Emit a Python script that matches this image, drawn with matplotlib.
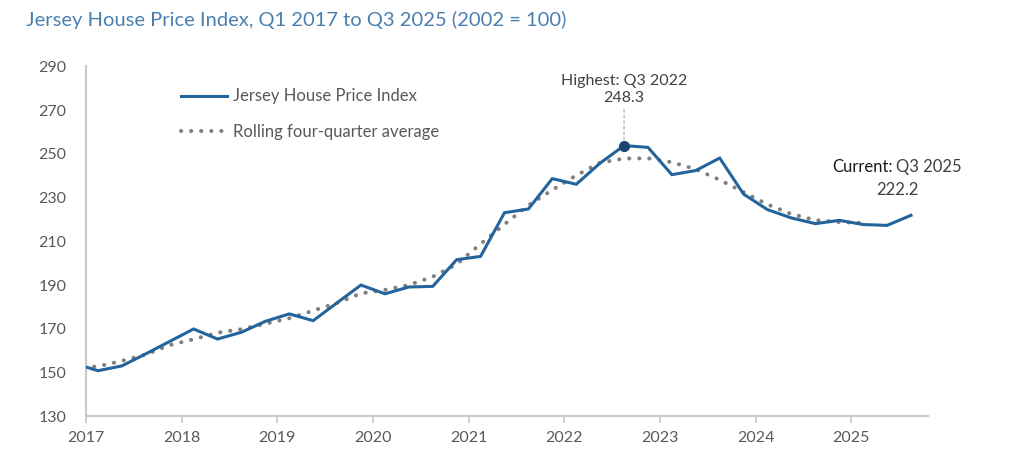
import matplotlib
matplotlib.use("Agg")
import matplotlib.pyplot as plt

# === Data ===

quarters = [
    "Q4 2016",
    "Q1 2017", "Q2 2017", "Q3 2017", "Q4 2017",
    "Q1 2018", "Q2 2018", "Q3 2018", "Q4 2018",
    "Q1 2019", "Q2 2019", "Q3 2019", "Q4 2019",
    "Q1 2020", "Q2 2020", "Q3 2020", "Q4 2020",
    "Q1 2021", "Q2 2021", "Q3 2021", "Q4 2021",
    "Q1 2022", "Q2 2022", "Q3 2022", "Q4 2022",
    "Q1 2023", "Q2 2023", "Q3 2023", "Q4 2023",
    "Q1 2024", "Q2 2024", "Q3 2024", "Q4 2024",
    "Q1 2025", "Q2 2025", "Q3 2025",
]

hpi = [
    154.2,
    150.8, 153.0, 158.5, 164.2,
    169.9, 165.3, 168.4, 173.4,
    176.8, 173.7, 181.9, 190.0,
    186.0, 189.1, 189.4, 201.6,
    203.1, 223.1, 224.8, 238.7,
    236.1, 245.8, 253.8, 253.0,
    240.5, 242.4, 248.1, 231.6,
    224.5, 220.7, 218.1, 219.6,
    217.7, 217.3, 221.9,
]

# rolling four-quarter average, Q4 2016 .. Q1 2025
rolling = [
    152.0,
    152.8, 155.3, 158.2, 162.5,
    165.2, 168.2, 169.8, 172.3,
    174.8, 178.3, 181.8, 186.2,
    187.8, 190.0, 193.8, 199.5,
    208.8, 217.8, 226.5, 233.5,
    240.2, 246.0, 247.9, 248.0,
    246.2, 243.0, 238.1, 232.5,
    226.9, 222.5, 219.7, 218.8,
    218.4,
]

year_ticks = [2017, 2018, 2019, 2020, 2021, 2022, 2023, 2024, 2025]
y_ticks = [130, 150, 170, 190, 210, 230, 250, 270, 290]

highest_label = "Highest: Q3 2022\n248.3"
current_value = "222.2"


def quarter_to_x(q):
    # place each quarter at the middle of its span on a year axis
    qn, yr = q.split()
    return int(yr) + (int(qn[1]) - 0.5) / 4


def main():
    plt.rcParams['font.family'] = ['Lato', 'DejaVu Sans']

    blue = '#24649C'
    grey_txt = '#595959'
    axis_col = '#C8C8C8'

    x_hpi = [quarter_to_x(q) for q in quarters]
    x_roll = [quarter_to_x(q) for q in quarters[:len(rolling)]]

    fig = plt.figure(figsize=(10.24, 4.65), dpi=100)
    ax = fig.add_axes([0.084, 0.105, 0.822, 0.752])

    ax.plot(x_hpi, hpi, color=blue, lw=2.2, label='Jersey House Price Index',
            solid_joinstyle='miter', zorder=3)
    ax.plot(x_roll, rolling, color='#808080', lw=2.9, linestyle=(0, (0.05, 2.45)),
            dash_capstyle='round', label='Rolling four-quarter average', zorder=2)

    ax.set_xlim(2017, 2025.8)
    ax.set_ylim(130, 290)
    ax.set_xticks(year_ticks)
    ax.set_xticklabels([str(y) for y in year_ticks])
    ax.set_yticks(y_ticks)

    for side in ['top', 'right']:
        ax.spines[side].set_visible(False)
    ax.spines['left'].set_color(axis_col)
    ax.spines['bottom'].set_color(axis_col)
    ax.spines['left'].set_linewidth(1.5)
    ax.spines['bottom'].set_linewidth(1.5)
    ax.tick_params(axis='x', colors=axis_col, length=5, width=1.2, labelcolor=grey_txt,
                   labelsize=11.5, pad=6)
    ax.tick_params(axis='y', length=0, labelcolor=grey_txt, labelsize=11.5, pad=14)

    # highest point marker + label
    i_max = hpi.index(max(hpi))
    ax.plot(x_hpi[i_max], hpi[i_max], 'o', color='#1B4472', ms=7, zorder=4)
    ax.annotate(highest_label, xy=(x_hpi[i_max], hpi[i_max]),
                xytext=(0, 29), textcoords='offset points', ha='center', va='bottom',
                fontsize=11.5, color='#404040', linespacing=1.3,
                arrowprops=dict(arrowstyle='-', color='#BBBBBB', lw=1, ls=(0, (2, 2)),
                                shrinkA=1, shrinkB=4))

    # current value label
    xl, yl = x_hpi[-1], hpi[-1]
    ax.annotate('Current:', xy=(xl, yl), xytext=(-13.5, 35), textcoords='offset points',
                ha='right', va='center', fontsize=12, color='#1A1A1A')
    ax.annotate(quarters[-1], xy=(xl, yl), xytext=(-11, 35), textcoords='offset points',
                ha='left', va='center', fontsize=12, color='#404040')
    ax.annotate(current_value, xy=(xl, yl), xytext=(-10, 18), textcoords='offset points',
                ha='center', va='center', fontsize=12, color='#404040')

    leg = ax.legend(loc='upper left', bbox_to_anchor=(0.095, 0.98), frameon=False,
                    fontsize=12, handlelength=2.75, handletextpad=0.4, labelspacing=1.15)
    for t in leg.get_texts():
        t.set_color(grey_txt)

    fig.text(0.025, 0.958, 'Jersey House Price Index, Q1 2017 to Q3 2025 (2002 = 100)',
             fontsize=14.5, color='#4A7FB0', ha='left', va='center')

    fig.savefig('out.png', dpi=100)


if __name__ == "__main__":
    main()
